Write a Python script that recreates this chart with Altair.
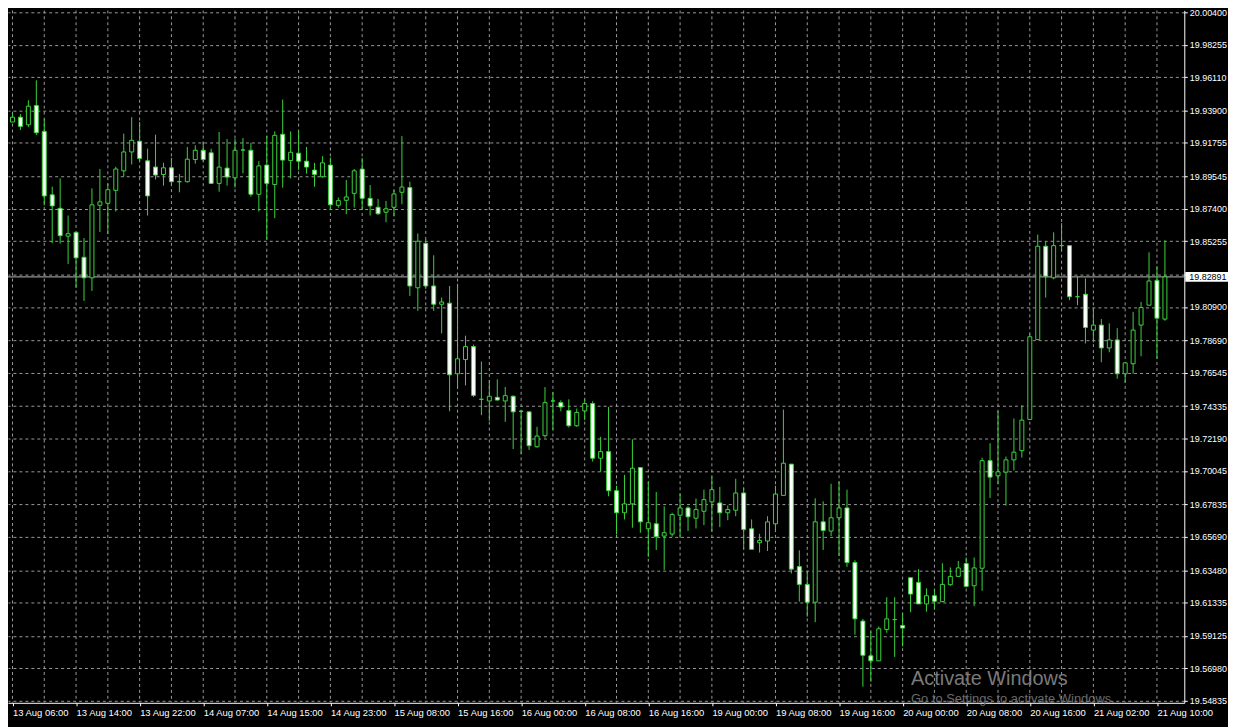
import altair as alt
import pandas as pd

# ---------------- data (H1 candles) ----------------
opens = [19.9320, 19.9314, 19.9346, 19.9296, 19.9423, 19.9252, 19.8832, 19.8743, 19.8559, 19.8584,
         19.8419, 19.8283, 19.8763, 19.8776, 19.8862, 19.8991, 19.9116, 19.9187, 19.9057, 19.9016,
         19.8967, 19.9011, 19.8919, 19.8919, 19.9066, 19.9127, 19.9110, 19.8908, 19.9009, 19.8945,
         19.9129, 19.9127, 19.8836, 19.9029, 19.8901, 19.9233, 19.9059, 19.9108, 19.9055, 19.8996,
         19.8952, 19.9029, 19.8763, 19.8796, 19.8842, 19.9003, 19.8809, 19.8750, 19.8717, 19.8750,
         19.8849, 19.8880, 19.8217, 19.8511, 19.8229, 19.8108, 19.8115, 19.7648, 19.7742, 19.7828,
         19.7479, 19.7468, 19.7492, 19.7468, 19.7499, 19.7400, 19.7396, 19.7165, 19.7238, 19.7468,
         19.7457, 19.7405, 19.7304, 19.7402, 19.7451, 19.7089, 19.7133, 19.6874, 19.6728, 19.6787,
         19.7027, 19.6622, 19.6655, 19.6574, 19.6587, 19.6712, 19.6760, 19.6692, 19.6738, 19.6800,
         19.6793, 19.6728, 19.6745, 19.6859, 19.6622, 19.6530, 19.6541, 19.6655, 19.6843, 19.7050,
         19.6372, 19.6254, 19.6136, 19.6668, 19.6607, 19.6695, 19.6760, 19.6399, 19.6011, 19.5781,
         19.5748, 19.5956, 19.6021, 19.5982, 19.6298, 19.6267, 19.6125, 19.6179, 19.6140, 19.6252,
         19.6307, 19.6392, 19.6245, 19.6361, 19.7073, 19.6973, 19.6997, 19.7078, 19.7139, 19.7346,
         19.7874, 19.8492, 19.8283, 19.8496, 19.8496, 19.8158, 19.8174, 19.7937, 19.7970, 19.7819,
         19.7872, 19.7648, 19.7714, 19.7970, 19.8102, 19.8266, 19.8010]
highs = [19.9379, 19.9375, 19.9366, 19.9458, 19.9590, 19.9335, 19.8886, 19.8941, 19.8695, 19.8584,
         19.8546, 19.8875, 19.9003, 19.8908, 19.9018, 19.9237, 19.9346, 19.9314, 19.9138, 19.9230,
         19.9044, 19.9077, 19.8970, 19.9149, 19.9160, 19.9182, 19.9138, 19.9248, 19.9202, 19.9202,
         19.9208, 19.9177, 19.9055, 19.9221, 19.9252, 19.9463, 19.9252, 19.9259, 19.9149, 19.9044,
         19.9088, 19.9079, 19.8814, 19.8930, 19.9003, 19.9077, 19.8897, 19.8805, 19.8792, 19.8864,
         19.9221, 19.8919, 19.8577, 19.8538, 19.8432, 19.8152, 19.8229, 19.8244, 19.7900, 19.7841,
         19.7729, 19.7604, 19.7611, 19.7560, 19.7505, 19.7407, 19.7396, 19.7297, 19.7560, 19.7527,
         19.7472, 19.7479, 19.7418, 19.7479, 19.7466, 19.7231, 19.7428, 19.6907, 19.6979, 19.7214,
         19.7027, 19.6935, 19.6866, 19.6771, 19.6728, 19.6854, 19.6771, 19.6822, 19.6881, 19.6968,
         19.6899, 19.6776, 19.6953, 19.6892, 19.6684, 19.6589, 19.6705, 19.6907, 19.7411, 19.7050,
         19.6480, 19.6342, 19.6824, 19.6804, 19.6920, 19.6935, 19.6881, 19.6414, 19.6026, 19.5943,
         19.5975, 19.6169, 19.6169, 19.6065, 19.6298, 19.6355, 19.6228, 19.6223, 19.6394, 19.6366,
         19.6409, 19.6432, 19.6432, 19.7093, 19.7188, 19.7402, 19.7100, 19.7352, 19.7440, 19.7911,
         19.8569, 19.8525, 19.8584, 19.8645, 19.8496, 19.8290, 19.8279, 19.8082, 19.8010, 19.7981,
         19.7950, 19.7720, 19.8058, 19.8123, 19.8452, 19.8360, 19.8531]
lows = [19.9294, 19.9314, 19.9261, 19.9281, 19.9228, 19.8761, 19.8513, 19.8509, 19.8375, 19.8217,
        19.8130, 19.8196, 19.8586, 19.8572, 19.8722, 19.8952, 19.9033, 19.9051, 19.8695, 19.8934,
        19.8893, 19.8891, 19.8849, 19.8914, 19.9039, 19.9051, 19.8906, 19.8853, 19.8893, 19.8880,
        19.8974, 19.8820, 19.8722, 19.8536, 19.8678, 19.8880, 19.8941, 19.8996, 19.8972, 19.8886,
        19.8945, 19.8733, 19.8748, 19.8704, 19.8748, 19.8733, 19.8695, 19.8700, 19.8651, 19.8689,
        19.8770, 19.8163, 19.8064, 19.8209, 19.8064, 19.7915, 19.7400, 19.7549, 19.7571, 19.7494,
        19.7374, 19.7336, 19.7472, 19.7330, 19.7150, 19.7117, 19.7144, 19.7159, 19.7225, 19.7275,
        19.7400, 19.7293, 19.7297, 19.7341, 19.7067, 19.6999, 19.6837, 19.6585, 19.6684, 19.6629,
        19.6596, 19.6436, 19.6482, 19.6350, 19.6570, 19.6570, 19.6607, 19.6624, 19.6646, 19.6603,
        19.6633, 19.6679, 19.6705, 19.6486, 19.6486, 19.6465, 19.6475, 19.6600, 19.6843, 19.6326,
        19.6140, 19.6041, 19.6004, 19.6482, 19.6574, 19.6442, 19.6370, 19.5921, 19.5577, 19.5610,
        19.5748, 19.5934, 19.5774, 19.5844, 19.6070, 19.6125, 19.6074, 19.6087, 19.6136, 19.6245,
        19.6307, 19.6234, 19.6110, 19.6212, 19.6826, 19.6918, 19.6776, 19.7008, 19.7093, 19.7346,
        19.7874, 19.8152, 19.8273, 19.8459, 19.8135, 19.8102, 19.7849, 19.7856, 19.7724, 19.7790,
        19.7615, 19.7589, 19.7648, 19.7764, 19.8102, 19.7747, 19.7999]
closes = [19.9320, 19.9346, 19.9285, 19.9419, 19.9243, 19.8825, 19.8759, 19.8562, 19.8575, 19.8415,
          19.8283, 19.8766, 19.8786, 19.8866, 19.9003, 19.9116, 19.9193, 19.9072, 19.8825, 19.8963,
          19.9011, 19.8919, 19.8919, 19.9068, 19.9127, 19.9066, 19.8908, 19.9016, 19.8950, 19.9127,
          19.9129, 19.8836, 19.9024, 19.8908, 19.9226, 19.9062, 19.9114, 19.9055, 19.9016, 19.8967,
          19.9044, 19.8766, 19.8794, 19.8818, 19.8991, 19.8809, 19.8759, 19.8707, 19.8740, 19.8838,
          19.8884, 19.8229, 19.8525, 19.8229, 19.8108, 19.8123, 19.7641, 19.7747, 19.7828, 19.7505,
          19.7479, 19.7499, 19.7474, 19.7503, 19.7396, 19.7400, 19.7172, 19.7236, 19.7457, 19.7468,
          19.7428, 19.7304, 19.7392, 19.7451, 19.7089, 19.7133, 19.6874, 19.6728, 19.6787, 19.7023,
          19.6668, 19.6662, 19.6570, 19.6596, 19.6716, 19.6760, 19.6701, 19.6749, 19.6815, 19.6881,
          19.6728, 19.6749, 19.6859, 19.6618, 19.6486, 19.6545, 19.6668, 19.6852, 19.7056, 19.6355,
          19.6254, 19.6136, 19.6668, 19.6611, 19.6695, 19.6760, 19.6399, 19.6026, 19.5785, 19.5748,
          19.5960, 19.6026, 19.6021, 19.5965, 19.6190, 19.6125, 19.6179, 19.6142, 19.6254, 19.6307,
          19.6363, 19.6241, 19.6363, 19.7073, 19.6964, 19.6999, 19.7078, 19.7129, 19.7341, 19.7893,
          19.8492, 19.8294, 19.8496, 19.8496, 19.8158, 19.8158, 19.7954, 19.7970, 19.7819, 19.7872,
          19.7648, 19.7720, 19.7937, 19.8086, 19.8262, 19.8016, 19.82891]

time_labels = ["13 Aug 06:00", "13 Aug 14:00", "13 Aug 22:00", "14 Aug 07:00", "14 Aug 15:00",
               "14 Aug 23:00", "15 Aug 08:00", "15 Aug 16:00", "16 Aug 00:00", "16 Aug 08:00",
               "16 Aug 16:00", "19 Aug 00:00", "19 Aug 08:00", "19 Aug 16:00", "20 Aug 00:00",
               "20 Aug 08:00", "20 Aug 16:00", "21 Aug 02:00", "21 Aug 10:00"]
price_labels = [20.00400, 19.98255, 19.96110, 19.93900, 19.91755, 19.89545, 19.87400, 19.85255,
                19.80900, 19.78690, 19.76545, 19.74335, 19.72190, 19.70045, 19.67835, 19.65690,
                19.63480, 19.61335, 19.59125, 19.56980, 19.54835]
hidden_grid_price = 19.83050   # grid row whose label is covered by the price tag
current_price = 19.82891
watermark = ["Activate Windows", "Go to Settings to activate Windows."]

# ---------------- styling ----------------
GREEN = "#3ad43a"
GRID = "#9a9a9a"
PRICE_LINE = "#b8b8b8"
FONT = "Liberation Sans"
FSX = 9.5
FSY = 9
W, H = 1184, 697

n = len(opens)
df = pd.DataFrame({"i": list(range(n)), "o": opens, "h": highs, "l": lows, "c": closes})
df["xl"] = df["i"] - 0.25
df["xr"] = df["i"] + 0.25
df["fillc"] = ["#000000" if c >= o else "#ffffff" for o, c in zip(opens, closes)]

label_idx = [1 + 8 * k for k in range(len(time_labels))]
grid_idx = [1 + 4 * k for k in range(37)]

xscale = alt.Scale(domain=[0.4375, 148.4375], nice=False, zero=False)
yscale = alt.Scale(domain=[19.54704, 20.00532], nice=False, zero=False)

js_labels = "[" + ",".join("'" + t + "'" for t in time_labels) + "]"
xaxis = alt.Axis(values=label_idx, labelExpr=js_labels + "[round((datum.value-1)/8)]",
                 grid=False, domainColor="white", domainWidth=1, tickColor="white", tickSize=3,
                 labelColor="white", labelFont=FONT, labelFontSize=FSX, labelAlign="left",
                 labelBaseline="middle", labelPadding=7, labelOverlap=False, labelFlush=False,
                 labelBound=False, title=None)
yaxis = alt.Axis(orient="right", values=price_labels + [hidden_grid_price],
                 labelExpr="abs(datum.value - %s) < 0.00001 ? '' : format(datum.value, '.5f')" % hidden_grid_price,
                 grid=True, gridColor=GRID, gridDash=[3, 3], gridWidth=1,
                 domainColor="white", domainWidth=1, tickColor="white", tickSize=3,
                 labelColor="white", labelFont=FONT, labelFontSize=FSY, labelAlign="left",
                 labelBaseline="middle", labelPadding=2, labelOverlap=False, labelFlush=False,
                 labelBound=False, title=None)


def X(field):
    return alt.X(field, type="quantitative", scale=xscale, axis=xaxis)


def Y(field):
    return alt.Y(field, type="quantitative", scale=yscale, axis=yaxis)


base = alt.Chart(df)

vgrid = alt.Chart(pd.DataFrame({"g": grid_idx})).mark_rule(
    color=GRID, strokeDash=[3, 3], strokeWidth=1, clip=True
).encode(x=X("g"))

price_line = alt.Chart(pd.DataFrame({"p": [current_price]})).mark_rule(
    color=PRICE_LINE, strokeWidth=1, clip=True
).encode(y=Y("p"))

wicks = base.mark_rule(color=GREEN, strokeWidth=1, clip=True).encode(
    x=X("i"), y=Y("l"), y2="h"
)

bodies = base.mark_rect(stroke=GREEN, strokeWidth=1, clip=True).encode(
    x=X("xl"), x2="xr", y=Y("o"), y2="c",
    fill=alt.Color("fillc:N", scale=None)
)

pdf = pd.DataFrame({"p": [current_price]})
price_box = alt.Chart(pdf).mark_rect(fill="white", yOffset=-5, y2Offset=5).encode(
    y=Y("p"), y2="p", x=alt.value(W + 1), x2=alt.value(W + 44)
)
price_text = alt.Chart(pdf).mark_text(
    align="left", baseline="middle", color="black", font=FONT, fontSize=FSY
).encode(y=Y("p"), x=alt.value(W + 5), text=alt.Text("p:Q", format=".5f"))

wm1 = alt.Chart(pd.DataFrame({"t": [watermark[0]]})).mark_text(
    align="left", baseline="middle", color="#7a7a7a", font=FONT, fontSize=20
).encode(text="t:N", x=alt.value(909), y=alt.value(673))
wm2 = alt.Chart(pd.DataFrame({"t": [watermark[1]]})).mark_text(
    align="left", baseline="middle", color="#6a6a6a", font=FONT, fontSize=13
).encode(text="t:N", x=alt.value(909), y=alt.value(693))

chart = alt.layer(vgrid, price_line, wicks, bodies, price_box, price_text, wm1, wm2).properties(
    width=W, height=H,
    background="black",
    padding={"left": 0, "top": 0, "right": 44, "bottom": 22},
    autosize=alt.AutoSizeParams(type="none"),
).configure_view(stroke=None)

chart.save("out.html", embed_options={"renderer": "svg", "actions": False})
